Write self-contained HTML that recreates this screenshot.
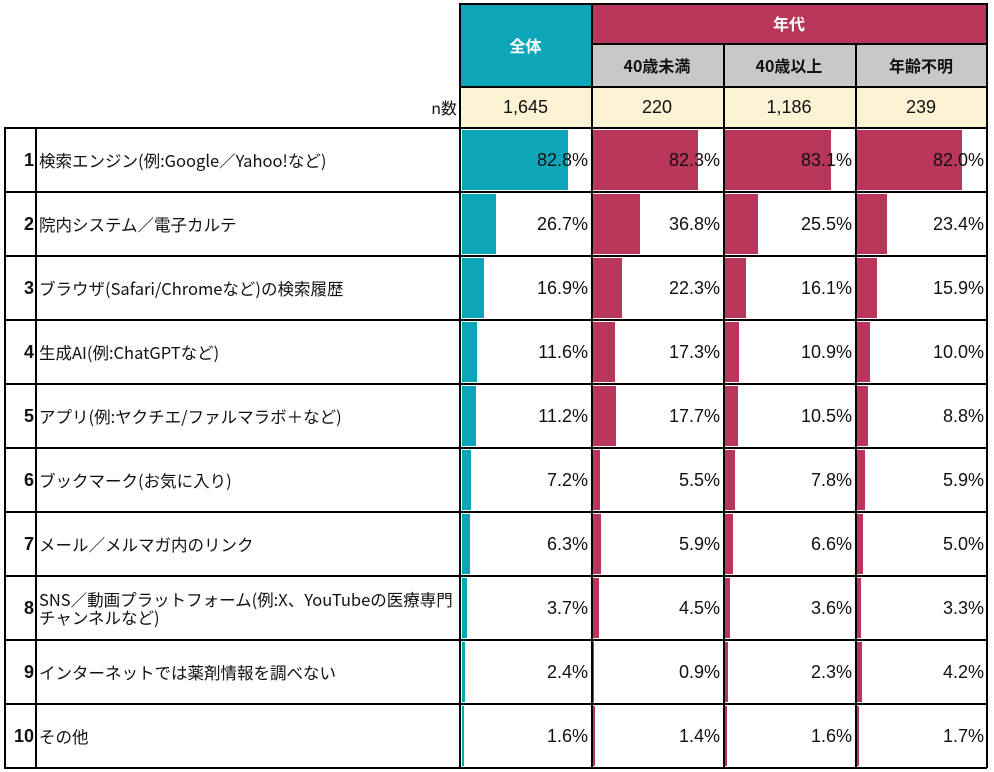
<!DOCTYPE html>
<html><head><meta charset="utf-8"><style>
body{margin:0;width:994px;height:772px;background:#fff;position:relative;overflow:hidden;font-family:"Liberation Sans","Noto Sans CJK JP",sans-serif;color:#111}
.a{position:absolute;box-sizing:border-box}
</style></head><body>
<div id="r"></div>
<script>
const R=document.getElementById('r');
function d(x,y,w,h,st,t){const e=document.createElement('div');e.className='a';e.style.cssText=`left:${x}px;top:${y}px;width:${w}px;height:${h}px;`+st;if(t!==undefined)e.innerHTML=t;R.appendChild(e);return e;}
const cx=[460,591,723,855,987];
const J='font-family:"Noto Sans CJK JP",sans-serif;';
d(460,3,131,83,J+'background:#0ca6b8;color:#fff;font-weight:bold;font-size:16px;display:flex;align-items:center;justify-content:center','全体');
d(591,3,396,40,J+'background:#b8365a;color:#fff;font-weight:bold;font-size:16px;display:flex;align-items:center;justify-content:center','年代');
const sub=['40歳未満','40歳以上','年齢不明'];
for(let i=0;i<3;i++)d(cx[i+1],43,cx[i+2]-cx[i+1],43,J+'background:#c8c8c8;font-weight:bold;font-size:16px;display:flex;align-items:center;justify-content:center',sub[i]);
const ns=['1,645','220','1,186','239'];
for(let i=0;i<4;i++)d(cx[i],86,cx[i+1]-cx[i],42,'background:#fcf2d4;font-size:18px;display:flex;align-items:center;justify-content:center',ns[i]);
d(380,86,77,42,J+'font-size:16px;display:flex;align-items:center;justify-content:flex-end','n数');
const rows=[
['検索エンジン(例:Google／Yahoo!など)',82.8,82.3,83.1,82.0],
['院内システム／電子カルテ',26.7,36.8,25.5,23.4],
['ブラウザ(Safari/Chromeなど)の検索履歴',16.9,22.3,16.1,15.9],
['生成AI(例:ChatGPTなど)',11.6,17.3,10.9,10.0],
['アプリ(例:ヤクチエ/ファルマラボ＋など)',11.2,17.7,10.5,8.8],
['ブックマーク(お気に入り)',7.2,5.5,7.8,5.9],
['メール／メルマガ内のリンク',6.3,5.9,6.6,5.0],
['SNS／動画プラットフォーム(例:X、YouTubeの医療専門<br>チャンネルなど)',3.7,4.5,3.6,3.3],
['インターネットでは薬剤情報を調べない',2.4,0.9,2.3,4.2],
['その他',1.6,1.4,1.6,1.7]];
rows.forEach((r,i)=>{const y=128+i*64;
 d(4,y,32,64,'font-size:18px;font-weight:bold;display:flex;align-items:center;justify-content:flex-end;padding-right:2px',String(i+1));
 d(39,y,421,64,J+'font-size:16.5px;line-height:18px;display:flex;align-items:center;white-space:nowrap',r[0]);
 for(let k=0;k<4;k++){const col=k==0?'#0ca6b8':'#b8365a';
  d(cx[k]+2,y+2,r[k+1]*128/100,60,'background:'+col);
  d(cx[k],y,cx[k+1]-cx[k],64,'font-size:18px;display:flex;align-items:center;justify-content:flex-end;padding-right:3px',r[k+1].toFixed(1)+'%');}
});
function L(x,y,w,h){d(x,y,w,h,'background:#000');}
L(459,3,529,1.5);L(459,3,1.5,125);L(986,3,1.5,125);L(591,3,1.5,765);L(591,43,396,1.5);L(459,86,528,1.5);
L(723,43,1.5,725);L(855,43,1.5,725);
for(let i=0;i<=10;i++)L(4,127+i*64,983,1.5);
L(4,127,1.5,641);L(35,127,1.5,641);L(459,127,1.5,641);L(986,127,1.5,641);
</script>
</body></html>
